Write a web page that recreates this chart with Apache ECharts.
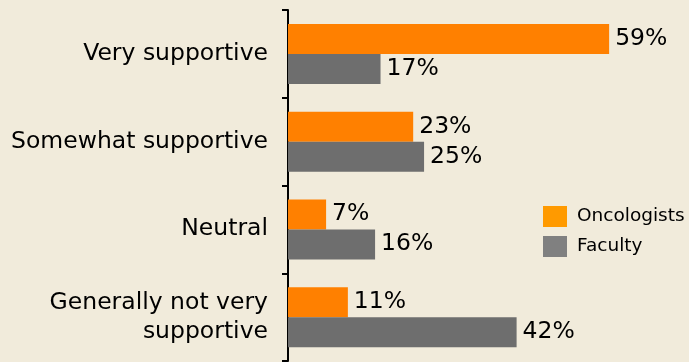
<!DOCTYPE html>
<html>
<head>
<meta charset="utf-8">
<script src="https://cdn.jsdelivr.net/npm/echarts@6/dist/echarts.min.js"></script>
<style>
  html, body { margin: 0; padding: 0; background: #F1EBDB; }
  #chart { width: 689px; height: 362px; }
</style>
</head>
<body>
<div id="chart"></div>
<script>
// Support levels (top to bottom) and the share of each group, in percent
const categories = ['Very supportive', 'Somewhat supportive', 'Neutral', 'Generally not very\nsupportive'];
const oncologists = [59, 23, 7, 11];
const faculty = [17, 25, 16, 42];

const FONT = '"DejaVu Sans", Verdana, sans-serif';
const chart = echarts.init(document.getElementById('chart'));

const valueLabel = {
  show: true,
  position: 'right',
  distance: 6,
  formatter: '{c}%',
  color: '#000',
  fontFamily: FONT,
  fontSize: 23.5
};

chart.setOption({
  backgroundColor: '#F1EBDB',
  animation: false,
  grid: { left: 288, right: 20, top: 10, bottom: 1 },
  legend: {
    orient: 'vertical',
    left: 543,
    top: 206,
    padding: 0,
    itemWidth: 24,
    itemHeight: 21,
    itemGap: 9,
    textStyle: { fontFamily: FONT, fontSize: 18.5, color: '#000', padding: [0, 0, 0, 5] },
    data: [
      { name: 'Oncologists', icon: 'rect', itemStyle: { color: '#FF9A00' } },
      { name: 'Faculty', icon: 'rect', itemStyle: { color: '#808080' } }
    ]
  },
  xAxis: {
    type: 'value',
    min: 0,
    max: 70,
    show: false
  },
  yAxis: {
    type: 'category',
    inverse: true,
    data: categories,
    axisLine: { lineStyle: { color: '#000', width: 2 } },
    axisTick: { show: true, length: 6, lineStyle: { color: '#000', width: 2 } },
    axisLabel: {
      margin: 20,
      color: '#000',
      fontFamily: FONT,
      fontSize: 23.5,
      lineHeight: 29,
      align: 'right'
    }
  },
  series: [
    {
      name: 'Oncologists',
      type: 'bar',
      data: oncologists,
      barWidth: 30,
      barGap: '0%',
      itemStyle: { color: '#FF8000' },
      label: valueLabel
    },
    {
      name: 'Faculty',
      type: 'bar',
      data: faculty,
      barWidth: 30,
      barGap: '0%',
      itemStyle: { color: '#6E6E6E' },
      label: valueLabel
    }
  ]
});
</script>
</body>
</html>
